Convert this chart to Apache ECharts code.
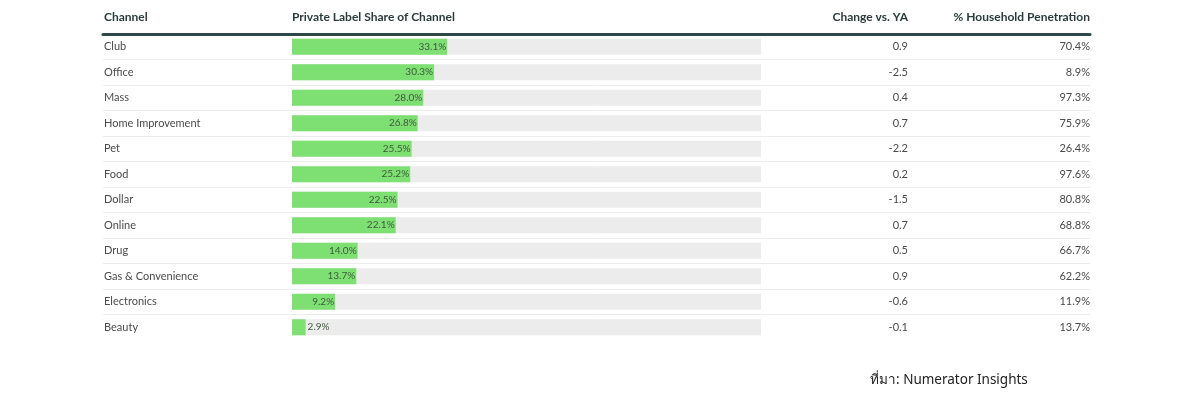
<!DOCTYPE html>
<html>
<head>
<meta charset="utf-8">
<script src="https://cdn.jsdelivr.net/npm/echarts@6/dist/echarts.min.js"></script>
<style>html,body{margin:0;padding:0;background:#fff;}#c{width:1200px;height:394px;}</style>
</head>
<body>
<div id="c"></div>
<script>
const channels = ['Club','Office','Mass','Home Improvement','Pet','Food','Dollar','Online','Drug','Gas & Convenience','Electronics','Beauty'];
const privateLabelShare = [33.1,30.3,28.0,26.8,25.5,25.2,22.5,22.1,14.0,13.7,9.2,2.9];
const changeVsYA = ['0.9','-2.5','0.4','0.7','-2.2','0.2','-1.5','0.7','0.5','0.9','-0.6','-0.1'];
const householdPenetration = ['70.4%','8.9%','97.3%','75.9%','26.4%','97.6%','80.8%','68.8%','66.7%','62.2%','11.9%','13.7%'];
const headers = ['Channel','Private Label Share of Channel','Change vs. YA','% Household Penetration'];
const sourceText = 'ที่มา: Numerator Insights';

const FONT = 'Lato, "Open Sans", sans-serif';
const TXT = '#4a4a4a';
const HDR = '#2b3b3b';
const TOP = 34, H = 306;
const n = channels.length;

const chart = echarts.init(document.getElementById('c'));
chart.setOption({
  animation: false,
  grid: [
    {left: 103, top: TOP, width: 987, height: H},
    {left: 292, top: TOP, width: 469, height: H}
  ],
  xAxis: [
    {gridIndex: 0, type: 'value', position: 'top', min: 0, max: 1,
     axisLine: {show: true, onZero: false, lineStyle: {color: '#2e4848', width: 3}},
     axisTick: {show: false}, axisLabel: {show: false}, splitLine: {show: false}},
    {gridIndex: 1, type: 'value', min: 0, max: 100, show: false}
  ],
  yAxis: [
    {gridIndex: 0, type: 'category', inverse: true, data: channels,
     axisLine: {show: false}, axisTick: {show: false},
     axisLabel: {show: true, align: 'left', margin: -1, color: TXT, fontFamily: FONT, fontSize: 11},
     splitLine: {show: true, showMinLine: false, showMaxLine: false, lineStyle: {color: '#ececec', width: 1}}},
    {gridIndex: 1, type: 'category', inverse: true, data: channels, show: false},
    {gridIndex: 1, type: 'category', inverse: true, data: channels, position: 'right',
     axisLine: {show: false}, axisTick: {show: false}, splitLine: {show: false},
     axisLabel: {show: true, align: 'right', margin: 147, color: TXT, fontFamily: FONT, fontSize: 11,
       formatter: (v, i) => changeVsYA[i]}},
    {gridIndex: 1, type: 'category', inverse: true, data: channels, position: 'right',
     axisLine: {show: false}, axisTick: {show: false}, splitLine: {show: false},
     axisLabel: {show: true, align: 'right', margin: 329, color: TXT, fontFamily: FONT, fontSize: 11,
       formatter: (v, i) => householdPenetration[i]}}
  ],
  series: [{
    type: 'bar', xAxisIndex: 1, yAxisIndex: 1,
    data: privateLabelShare.map(v => ({
      value: v,
      label: {position: v < 5 ? 'right' : 'insideRight', distance: v < 5 ? 2 : 1}
    })),
    barWidth: 16,
    showBackground: true,
    backgroundStyle: {color: '#ececec'},
    itemStyle: {color: '#7ee072'},
    label: {show: true, formatter: (p) => p.value.toFixed(1) + '%', color: '#3d5a3d',
      fontFamily: FONT, fontSize: 10}
  }],
  graphic: [
    {type: 'text', left: 104, top: 11, style: {text: headers[0], font: 'bold 12px ' + FONT, fill: HDR}},
    {type: 'text', left: 292, top: 11, style: {text: headers[1], font: 'bold 12px ' + FONT, fill: HDR}},
    {type: 'text', right: 1200 - 908, top: 11, style: {text: headers[2], font: 'bold 12px ' + FONT, fill: HDR}},
    {type: 'text', right: 110, top: 11, style: {text: headers[3], font: 'bold 12px ' + FONT, fill: HDR}},
    {type: 'text', left: 870, top: 373, style: {text: sourceText, font: '13.5px "Noto Sans", sans-serif', fill: '#222'}}
  ]
});
</script>
</body>
</html>
